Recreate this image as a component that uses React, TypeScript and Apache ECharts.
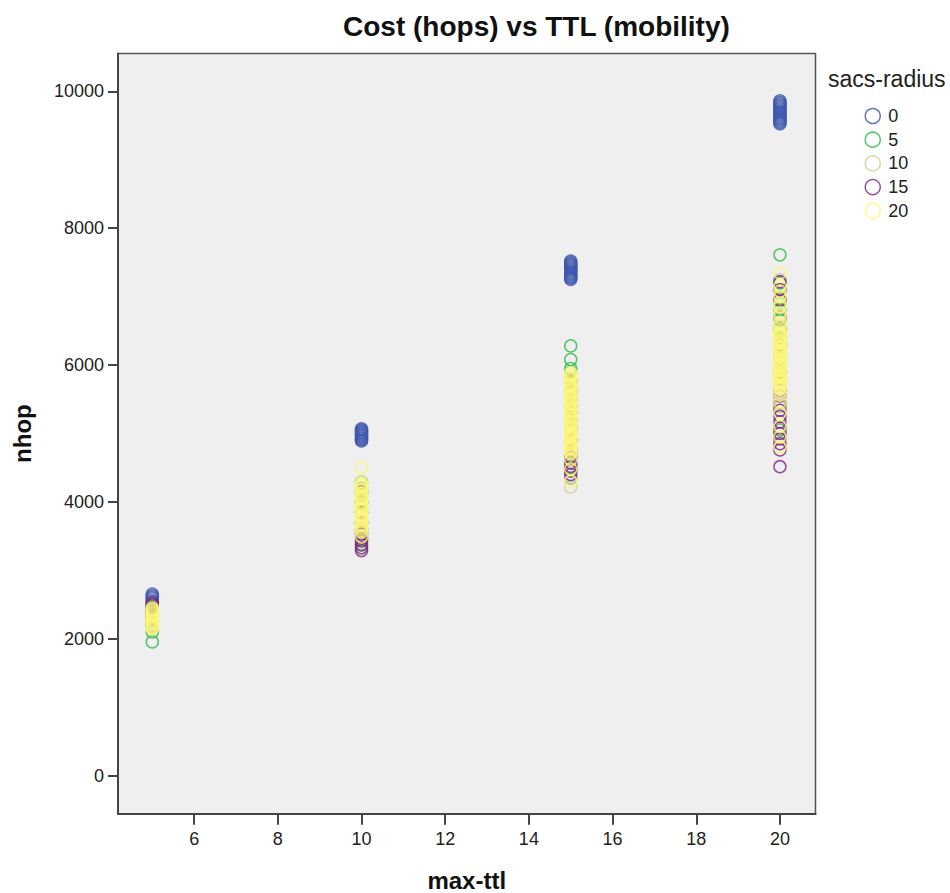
import React, { useEffect, useRef } from "react";
import * as echarts from "echarts";

const radiusNames = ["0", "5", "10", "15", "20"];
const radiusColors = ["#3E58AC", "#2EB848", "#D3CE97", "#7C287D", "#FBF873"];
const ttlValues = [5, 10, 15, 20];
const xTickValues = [6, 8, 10, 12, 14, 16, 18, 20];
const yTickValues = [0, 2000, 4000, 6000, 8000, 10000];

// nhop readings per max-ttl (5, 10, 15, 20) for each sacs-radius
const nhopR0 = [
  [2310, 2350, 2390, 2420, 2450, 2480, 2510, 2540, 2560, 2590, 2610, 2630, 2655],
  [4890, 4905, 4921, 4934, 4950, 4966, 4980, 4996, 5010, 5024, 5040, 5054, 5068],
  [7250, 7268, 7284, 7300, 7318, 7335, 7350, 7367, 7385, 7400, 7417, 7435, 7450, 7468, 7484, 7500, 7518],
  [9525, 9545, 9564, 9585, 9600, 9620, 9641, 9660, 9680, 9700, 9719, 9740, 9760, 9781, 9800, 9820, 9840, 9860],
];
const nhopR5 = [
  [1955, 2100, 2180, 2250, 2320, 2400, 2470],
  [3370, 3450, 3560, 3700, 3850, 3980, 4100, 4200, 4290],
  [4350, 4500, 4700, 4900, 5100, 5300, 5500, 5650, 5780, 5900, 5950, 6080, 6280],
  [5050, 5400, 5800, 6100, 6400, 6550, 6660, 6805, 6900, 6980, 7097, 7200, 7610],
];
const nhopR10 = [
  [2150, 2250, 2350, 2420],
  [3400, 3550, 3700, 3850, 4000, 4150],
  [4220, 4350, 4600, 4850, 5100, 5350, 5600, 5800],
  [5000, 5400, 5900, 6300, 6700, 7000, 7250],
];
const nhopR15 = [
  [2200, 2300, 2400, 2460, 2500, 2525],
  [3290, 3330, 3380, 3430, 3480, 3530, 3600, 3700, 3850, 4000, 4150],
  [4400, 4450, 4520, 4570, 4650, 4750, 4900, 5050, 5200, 5400, 5600, 5750],
  [4515, 4760, 4850, 4920, 5000, 5080, 5170, 5250, 5340, 5450, 5550, 5636, 5900, 6293, 6512, 6700, 6950, 7100, 7218],
];
const nhopR20 = [
  [2150, 2172, 2190, 2208, 2231, 2250, 2268, 2291, 2310, 2328, 2350, 2371, 2390, 2408, 2430, 2452],
  [3490, 3560, 3592, 3618, 3651, 3680, 3708, 3741, 3770, 3799, 3830, 3862, 3890, 3918, 3951, 3980, 4008, 4041, 4070, 4099, 4130, 4161, 4190, 4218, 4250, 4290, 4497],
  [4300, 4480, 4620, 4700, 4724, 4751, 4776, 4800, 4823, 4850, 4877, 4900, 4926, 4950, 4973, 5000, 5027, 5050, 5074, 5100, 5126, 5150, 5177, 5200, 5223, 5250, 5276, 5300, 5327, 5350, 5374, 5400, 5426, 5450, 5477, 5500, 5523, 5550, 5576, 5600, 5626, 5650, 5673, 5700, 5727, 5750, 5776, 5800, 5830, 5861, 5890],
  [4800, 4950, 5100, 5300, 5450, 5560, 5640, 5664, 5691, 5715, 5740, 5766, 5790, 5814, 5841, 5865, 5890, 5916, 5940, 5964, 5991, 6015, 6040, 6066, 6090, 6114, 6141, 6165, 6190, 6216, 6240, 6264, 6291, 6315, 6340, 6366, 6390, 6414, 6441, 6465, 6490, 6515, 6560, 6620, 6700, 6760, 6850, 6900, 7000, 7080, 7150, 7345],
];
const nhopByRadius = [nhopR0, nhopR5, nhopR10, nhopR15, nhopR20];

const FONT = "'Liberation Sans', Arial, sans-serif";

export default function App() {
  const ref = useRef<HTMLDivElement>(null);
  useEffect(() => {
    if (!ref.current) return;
    document.body.style.margin = "0";
    document.body.style.overflow = "hidden";
    const chart = echarts.init(ref.current, undefined, { renderer: "svg" });
    const series = radiusNames.map((name, i) => ({
      name,
      type: "scatter" as const,
      symbol: "circle",
      symbolSize: 12,
      itemStyle: { color: "transparent", borderColor: radiusColors[i], borderWidth: 1.5 },
      data: ttlValues.flatMap((t, k) => nhopByRadius[i][k].map((v) => [t, v])),
    }));
    chart.setOption({
      animation: false,
      backgroundColor: "#ffffff",
      textStyle: { fontFamily: FONT },
      title: {
        text: "Cost (hops) vs TTL (mobility)",
        left: 338,
        top: 7,
        textStyle: { fontFamily: FONT, fontSize: 28, fontWeight: "bold", color: "#111" },
      },
      legend: {
        orient: "vertical",
        left: 859.5,
        top: 102,
        itemWidth: 15,
        itemHeight: 15,
        itemGap: 5.7,
        textStyle: { fontFamily: FONT, fontSize: 18, color: "#222", padding: [0, 0, 0, 3] },
        data: radiusNames.map((n, i) => ({
          name: n,
          icon: "circle",
          itemStyle: { color: "transparent", borderColor: radiusColors[i], borderWidth: 1.5 },
        })),
      },
      graphic: [
        {
          type: "text",
          left: 828,
          top: 67,
          style: { text: "sacs-radius", fontFamily: FONT, fontSize: 23, fill: "#222" },
        },
      ],
      grid: {
        left: 118,
        top: 53.5,
        right: 134.5,
        bottom: 79.3,
        outerBoundsMode: "none",
        containLabel: false,
        show: true,
        backgroundColor: "#efefef",
        borderColor: "#555",
        borderWidth: 1.5,
      },
      xAxis: {
        type: "value",
        min: 4.18,
        max: 20.85,
        name: "max-ttl",
        nameLocation: "middle",
        nameGap: 55,
        nameTextStyle: { fontFamily: FONT, fontSize: 24, fontWeight: "bold", color: "#111" },
        axisLine: { show: true, onZero: false, lineStyle: { color: "#444", width: 2 } },
        axisTick: { show: true, customValues: xTickValues, length: 11, lineStyle: { color: "#444", width: 2 } },
        axisLabel: { customValues: xTickValues, fontSize: 18, color: "#222", margin: 16, fontFamily: FONT, formatter: (v: number) => String(v) },
        splitLine: { show: false },
      },
      yAxis: {
        type: "value",
        min: -555,
        max: 10552,
        name: "nhop",
        nameLocation: "middle",
        nameGap: 84,
        nameRotate: 90,
        nameTextStyle: { fontFamily: FONT, fontSize: 24, fontWeight: "bold", color: "#111" },
        axisLine: { show: true, onZero: false, lineStyle: { color: "#444", width: 2 } },
        axisTick: { show: true, customValues: yTickValues, length: 10, lineStyle: { color: "#444", width: 2 } },
        axisLabel: { customValues: yTickValues, fontSize: 18, color: "#222", margin: 14, fontFamily: FONT, formatter: (v: number) => String(v) },
        splitLine: { show: false },
      },
      series,
    });
    return () => chart.dispose();
  }, []);
  return <div ref={ref} style={{ width: 950, height: 893 }} />;
}
